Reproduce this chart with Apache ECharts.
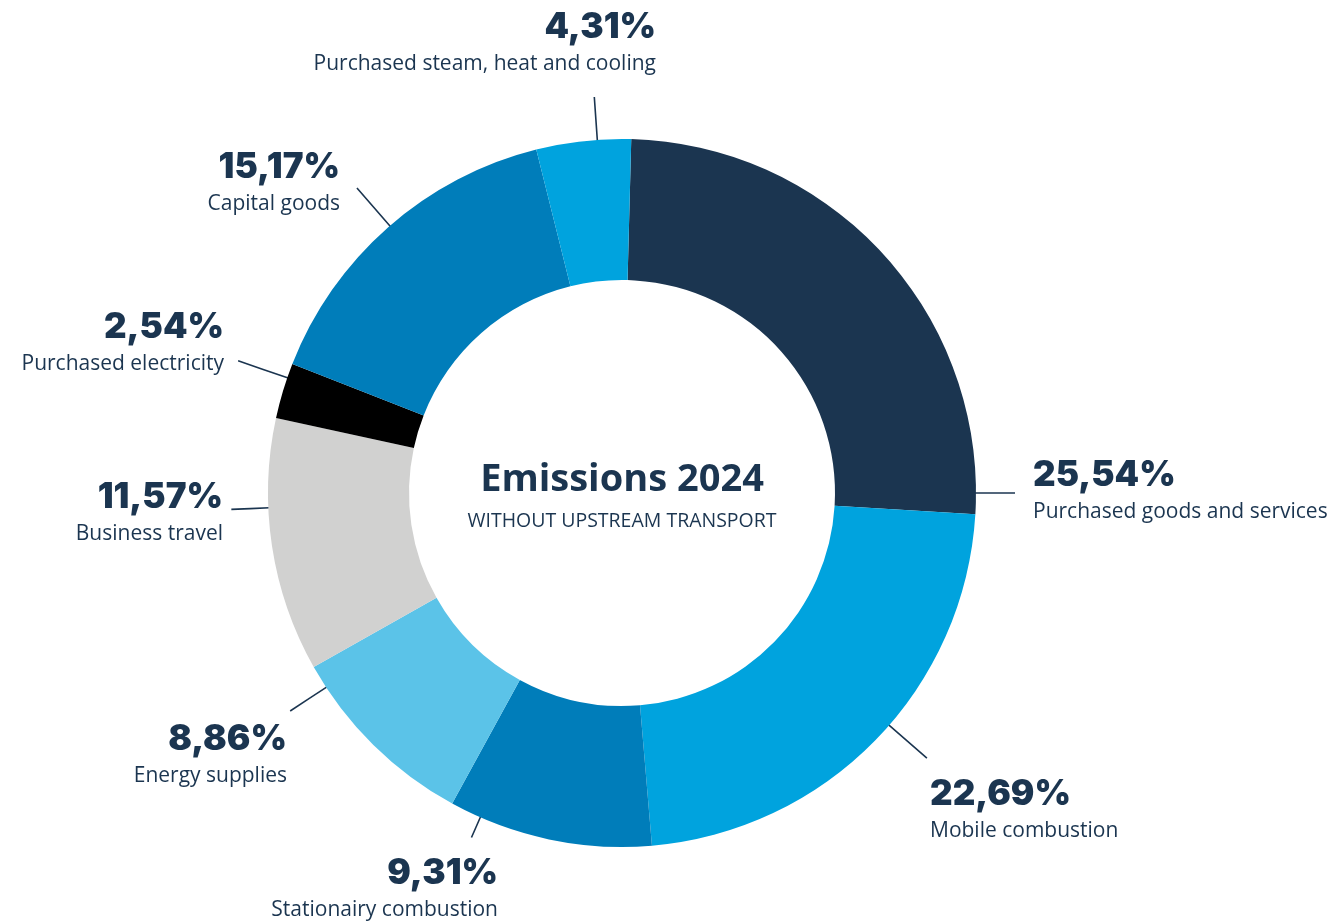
<!DOCTYPE html>
<html>
<head>
<meta charset="utf-8">
<script src="https://cdn.jsdelivr.net/npm/echarts@6/dist/echarts.min.js"></script>
<style>
html,body{margin:0;padding:0;background:#fff;}
#chart{width:1339px;height:921px;}
</style>
</head>
<body>
<div id="chart"></div>
<script>
const categories = ['Purchased goods and services','Mobile combustion','Stationairy combustion','Energy supplies','Business travel','Purchased electricity','Capital goods','Purchased steam, heat and cooling'];
const values = [25.54, 22.69, 9.31, 8.86, 11.57, 2.54, 15.17, 4.31];
const colors = ['#1b3550','#00a3de','#007dba','#5bc3e8','#d1d1d0','#000000','#007dba','#00a3de'];
const titleText = 'Emissions 2024';
const subtitleText = 'WITHOUT UPSTREAM TRANSPORT';

// label placement: anchor angle (deg clockwise from top), line length, label x, label middle y, alignment
const labelPlace = [
  {ang: 90,    len: 39, x: 1033, y: 493, align: 'left'},
  {ang: 131,   len: 50, x: 930,  y: 812, align: 'left'},
  {ang: 203.6, len: 22, x: 498,  y: 891, align: 'right'},
  {ang: 236.7, len: 43, x: 287,  y: 757, align: 'right'},
  {ang: 267.6, len: 37, x: 223,  y: 515, align: 'right'},
  {ang: 289,   len: 52, x: 224,  y: 345, align: 'right'},
  {ang: 319,   len: 50, x: 340,  y: 185, align: 'right'},
  {ang: 356,   len: 43, x: 656,  y: 45,  align: 'right'}
];

const CX = 622, CY = 493, R_IN = 213, R_OUT = 354;
const textColor = '#1b3550';

const chart = echarts.init(document.getElementById('chart'), null, {renderer: 'canvas'});

function pt(angDeg, r) {
  const a = angDeg * Math.PI / 180;
  return [CX + r * Math.sin(a), CY - r * Math.cos(a)];
}

chart.setOption({
  backgroundColor: '#ffffff',
  animation: false,
  graphic: [
    {type: 'text', x: CX, y: 480, style: {text: titleText, fill: textColor, font: 'bold 38px "Open Sans"', textAlign: 'center', textVerticalAlign: 'middle'}},
    {type: 'text', x: CX, y: 521, style: {text: subtitleText, fill: textColor, font: '19.5px "Open Sans"', textAlign: 'center', textVerticalAlign: 'middle'}}
  ],
  series: [{
    type: 'pie',
    center: [CX, CY],
    radius: [R_IN, R_OUT],
    startAngle: 88.5,
    clockwise: true,
    avoidLabelOverlap: false,
    silent: true,
    itemStyle: {borderWidth: 0},
    data: categories.map((c, i) => ({name: c, value: values[i], itemStyle: {color: colors[i]}})),
    label: {
      show: true,
      position: 'outside',
      formatter: p => '{p|' + p.value.toFixed(2).replace('.', ',') + '%}\n{n|' + p.name + '}',
      rich: {
        p: {fontFamily: 'Inter', fontWeight: 900, fontSize: 35, color: textColor, lineHeight: 38},
        n: {fontFamily: 'Open Sans', fontSize: 21, color: textColor, lineHeight: 36}
      }
    },
    labelLine: {show: true, lineStyle: {color: textColor, width: 1.6}},
    labelLayout: function (params) {
      const L = labelPlace[params.dataIndex];
      const p0 = pt(L.ang, R_OUT - 1);
      const p2 = pt(L.ang, R_OUT + L.len);
      const p1 = [(p0[0] + p2[0]) / 2, (p0[1] + p2[1]) / 2];
      return {x: L.x, y: L.y, align: L.align, verticalAlign: 'middle', labelLinePoints: [p0, p1, p2]};
    }
  }]
});
</script>
</body>
</html>
